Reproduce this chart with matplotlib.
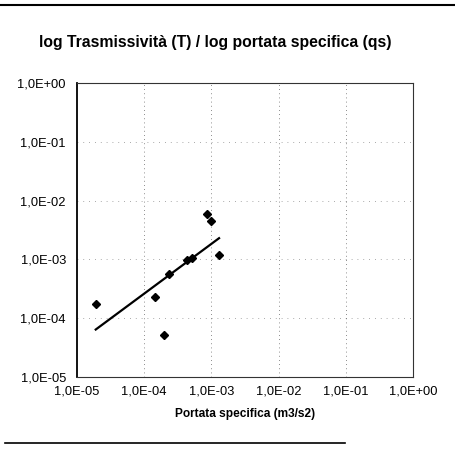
import numpy as np
import matplotlib
matplotlib.use("Agg")
import matplotlib.pyplot as plt
from matplotlib.lines import Line2D

# Data
portata = [1.9e-5, 1.44e-4, 1.98e-4, 2.33e-4, 4.27e-4, 5.2e-4, 8.7e-4, 1.0e-3, 1.3e-3]
trasmissivita = [1.73e-4, 2.3e-4, 5.2e-5, 5.6e-4, 9.7e-4, 1.04e-3, 5.9e-3, 4.5e-3, 1.2e-3]
tick_values = [1e-5, 1e-4, 1e-3, 1e-2, 1e-1, 1e0]
tick_labels = ["1,0E-05", "1,0E-04", "1,0E-03", "1,0E-02", "1,0E-01", "1,0E+00"]

plt.rcParams['font.family'] = ['Liberation Sans', 'DejaVu Sans']

fig = plt.figure(figsize=(4.55, 4.59), dpi=100)
ax = fig.add_axes([77 / 455, 1 - 377 / 459, 336 / 455, 294 / 459])

# Power trendline (straight in log-log space)
lx = np.log10(portata)
ly = np.log10(trasmissivita)
slope, inter = np.polyfit(lx, ly, 1)
xs = np.linspace(lx.min(), lx.max(), 50)
ax.plot(10 ** xs, 10 ** (slope * xs + inter), color="black", lw=1.6, zorder=3)

# Data points
ax.plot(portata, trasmissivita, linestyle="none", marker="D", markersize=4.5,
        color="black", zorder=4)

ax.set_xscale("log")
ax.set_yscale("log")
ax.set_xlim(1e-5, 1e0)
ax.set_ylim(1e-5, 1e0)
ax.set_xticks(tick_values)
ax.set_xticklabels(tick_labels)
ax.set_yticks(tick_values)
ax.set_yticklabels(tick_labels)
ax.minorticks_off()
ax.tick_params(length=0, labelsize=9.3)
ax.tick_params(axis="y", pad=8)
ax.tick_params(axis="x", pad=6)

# Dotted grid
for v in tick_values[1:-1]:
    ax.axvline(v, color="black", lw=0.6, linestyle=(0, (1, 4)), alpha=0.6, zorder=1)
    ax.axhline(v, color="black", lw=0.6, linestyle=(0, (1, 6)), alpha=0.45, zorder=1)

ax.spines["left"].set_linewidth(1.3)
for s in ["top", "right", "bottom"]:
    ax.spines[s].set_linewidth(0.8)
    ax.spines[s].set_color("#333333")

ax.set_xlabel("Portata specifica (m3/s2)", fontsize=8.6, fontweight="bold", labelpad=8)

fig.text(0.473, 1 - 43 / 459, "log Trasmissività (T) / log portata specifica (qs)",
         ha="center", va="center", fontsize=11.3, fontweight="bold")

# Page rules from the scan
fig.add_artist(Line2D([0, 1], [1 - 5 / 459, 1 - 5 / 459], color="black", lw=1.5))
fig.add_artist(Line2D([5 / 455, 345 / 455], [1 - 443 / 459, 1 - 443 / 459],
                      color="black", lw=1.2))

fig.savefig("out.png", dpi=100)
